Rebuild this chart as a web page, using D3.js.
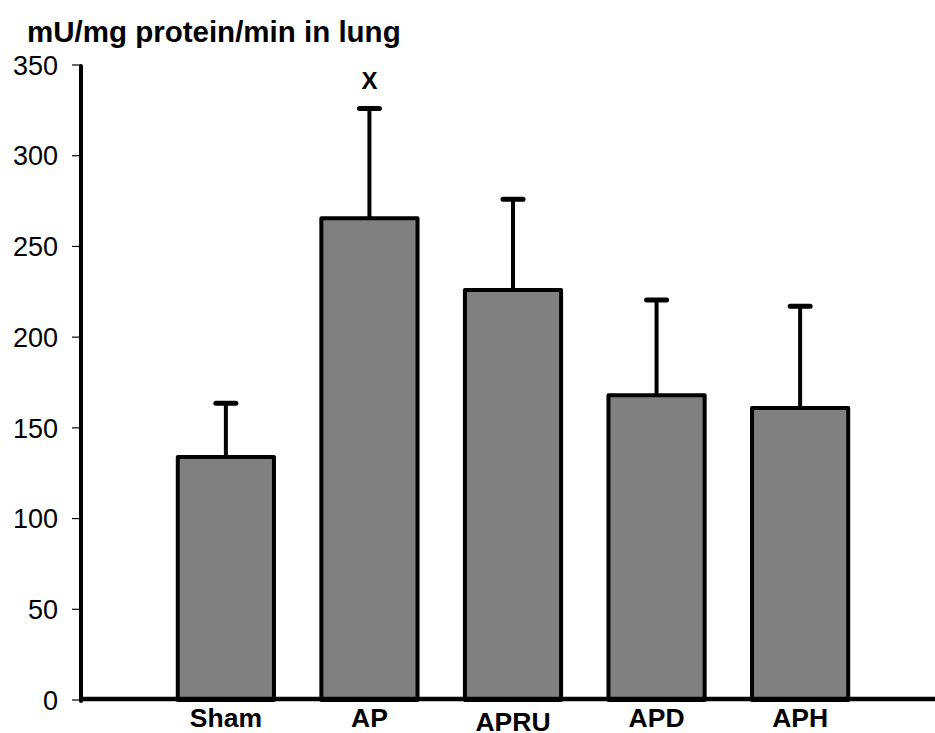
<!DOCTYPE html>
<html>
<head>
<meta charset="utf-8">
<script src="https://cdn.jsdelivr.net/npm/d3@7"></script>
<style>
  body { margin: 0; background: #fff; overflow: hidden; }
  svg { display: block; font-family: "Liberation Sans", Arial, sans-serif; }
</style>
</head>
<body>
<script>
var width = 935;
var height = 733;

// data
var groups = ["Sham", "AP", "APRU", "APD", "APH"];
var means = [134, 265.5, 226, 168, 161];
var errors = [29.5, 60.5, 50, 52.5, 56];
var marks = ["", "X", "", "", ""];
var yTicks = [0, 50, 100, 150, 200, 250, 300, 350];

var svg = d3.select("body").append("svg")
    .attr("width", width)
    .attr("height", height);

var x = d3.scaleBand()
    .domain(groups)
    .range([106, 920])
    .paddingInner(0.33)
    .paddingOuter(0.5);

var y = d3.scaleLinear()
    .domain([0, 350])
    .range([700, 65]);

// title
svg.append("text")
    .attr("x", 27)
    .attr("y", 42)
    .style("font-size", "29.5px")
    .style("font-weight", "bold")
    .text("mU/mg protein/min in lung");

// y axis ticks and labels
var yAxis = svg.append("g");
yAxis.selectAll("line")
    .data(yTicks)
    .enter().append("line")
    .attr("x1", 72)
    .attr("x2", 81)
    .attr("y1", function(d) { return y(d); })
    .attr("y2", function(d) { return y(d); })
    .attr("stroke", "#000")
    .attr("stroke-width", 1.2);
yAxis.selectAll("text")
    .data(yTicks)
    .enter().append("text")
    .attr("x", 58)
    .attr("y", function(d) { return y(d); })
    .attr("dy", "0.36em")
    .attr("text-anchor", "end")
    .style("font-size", "27px")
    .text(function(d) { return d; });

// error bars (behind the bars)
var err = svg.append("g");
err.selectAll("line.stem")
    .data(groups)
    .enter().append("line")
    .attr("class", "stem")
    .attr("x1", function(d) { return x(d) + x.bandwidth() / 2; })
    .attr("x2", function(d) { return x(d) + x.bandwidth() / 2; })
    .attr("y1", function(d, i) { return y(means[i]); })
    .attr("y2", function(d, i) { return y(means[i] + errors[i]); })
    .attr("stroke", "#000")
    .attr("stroke-width", 4);
err.selectAll("line.cap")
    .data(groups)
    .enter().append("line")
    .attr("class", "cap")
    .attr("x1", function(d) { return x(d) + x.bandwidth() / 2 - 10; })
    .attr("x2", function(d) { return x(d) + x.bandwidth() / 2 + 10; })
    .attr("y1", function(d, i) { return y(means[i] + errors[i]); })
    .attr("y2", function(d, i) { return y(means[i] + errors[i]); })
    .attr("stroke", "#000")
    .attr("stroke-width", 5)
    .attr("stroke-linecap", "round");

// bars
svg.append("g").selectAll("rect")
    .data(groups)
    .enter().append("rect")
    .attr("x", function(d) { return x(d); })
    .attr("y", function(d, i) { return y(means[i]); })
    .attr("width", x.bandwidth())
    .attr("height", function(d, i) { return y(0) - y(means[i]); })
    .attr("fill", "#808080")
    .attr("stroke", "#000")
    .attr("stroke-width", 4)
    .attr("stroke-linejoin", "round");

// significance marks
svg.append("g").selectAll("text")
    .data(groups)
    .enter().append("text")
    .attr("x", function(d) { return x(d) + x.bandwidth() / 2; })
    .attr("y", function(d, i) { return y(means[i] + errors[i]) - 20; })
    .attr("text-anchor", "middle")
    .style("font-size", "24px")
    .style("font-weight", "bold")
    .text(function(d, i) { return marks[i]; });

// axes lines
svg.append("line")
    .attr("x1", 81).attr("x2", 81)
    .attr("y1", 66).attr("y2", 701)
    .attr("stroke", "#000")
    .attr("stroke-width", 4)
    .attr("stroke-linecap", "round");
svg.append("line")
    .attr("x1", 81).attr("x2", 935)
    .attr("y1", 699).attr("y2", 699)
    .attr("stroke", "#000")
    .attr("stroke-width", 4.5);

// category labels (APRU sits a little lower, as in the original)
svg.append("g").selectAll("text")
    .data(groups)
    .enter().append("text")
    .attr("x", function(d) { return x(d) + x.bandwidth() / 2; })
    .attr("y", function(d) { return d === "APRU" ? 731 : 727; })
    .attr("text-anchor", "middle")
    .style("font-size", "26.5px")
    .style("font-weight", "bold")
    .text(function(d) { return d; });
</script>
</body>
</html>
